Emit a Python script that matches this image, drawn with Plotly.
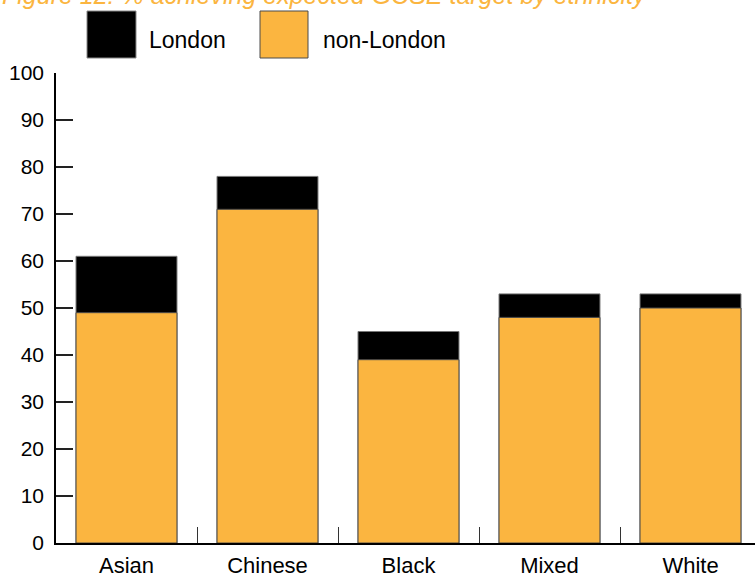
import plotly.graph_objects as go

categories = ["Asian", "Chinese", "Black", "Mixed", "White"]
london = [61, 78, 45, 53, 53]
non_london = [49, 71, 39, 48, 50]
y_ticks = [0, 10, 20, 30, 40, 50, 60, 70, 80, 90, 100]
series_names = ["London", "non-London"]
title_text = "Figure 12: % achieving expected GCSE target by ethnicity"

W, H = 755, 576
L, R, T, B = 56, 0, 73, 33
ORANGE = "#FBB540"
FONT = "Liberation Sans, Arial, sans-serif"

def px_x(px):
    return (px - L) / (W - L - R)

def px_y(py):
    return (H - B - py) / (H - T - B)

fig = go.Figure()
fig.add_trace(go.Bar(x=categories, y=london, name=series_names[0], width=0.716,
                     marker=dict(color="#000000", line=dict(color="#777777", width=1))))
fig.add_trace(go.Bar(x=categories, y=non_london, name=series_names[1], width=0.716,
                     marker=dict(color=ORANGE, line=dict(color="#4a4a4a", width=1))))

# legend drawn manually (large swatches)
leg = [(87, 136, "#000000", "#888888", 147), (260, 308, ORANGE, "#4a4a4a", 321)]
for (x0, x1, fc, lc, tx), name in zip(leg, series_names):
    fig.add_shape(type="rect", xref="paper", yref="paper",
                  x0=px_x(x0), x1=px_x(x1), y0=px_y(58), y1=px_y(11),
                  fillcolor=fc, line=dict(color=lc, width=1))
    fig.add_annotation(xref="paper", yref="paper", x=px_x(tx), y=px_y(40),
                       text=name, showarrow=False, xanchor="left", yanchor="middle",
                       font=dict(family=FONT, size=23, color="#000000"))

fig.add_annotation(xref="paper", yref="paper", x=px_x(0), y=px_y(-5),
                   text=title_text, showarrow=False, xanchor="left", yanchor="middle",
                   font=dict(family=FONT, size=25, color=ORANGE, style="italic"))

fig.update_layout(
    width=W, height=H, autosize=False,
    margin=dict(l=L, r=R, t=T, b=B, pad=0, autoexpand=False),
    barmode="overlay", showlegend=False,
    plot_bgcolor="white", paper_bgcolor="white",
    font=dict(family=FONT, color="#000000"),
)
fig.update_xaxes(type="category", range=[-0.5, -0.5 + (W - L - R) / 141.0],
                 automargin=False,
                 showline=True, linecolor="#000000", linewidth=1.5,
                 ticks="inside", tickson="boundaries", ticklen=16, tickwidth=1.2,
                 tickcolor="#333333", showgrid=False, zeroline=False,
                 tickfont=dict(size=22, family=FONT, color="#000000"),
                 ticklabelstandoff=2)
fig.update_yaxes(range=[0, 100], tickvals=y_ticks, ticktext=[str(v) for v in y_ticks],
                 automargin=False,
                 showline=True, linecolor="#000000", linewidth=1.5,
                 ticks="inside", ticklen=17, tickwidth=1.5, tickcolor="#222222",
                 showgrid=False, zeroline=False,
                 tickfont=dict(size=21, family=FONT, color="#000000"),
                 ticklabelstandoff=6)

fig.write_html("out.html", config={"displayModeBar": False},
               post_script="document.body.style.margin='0px';")
